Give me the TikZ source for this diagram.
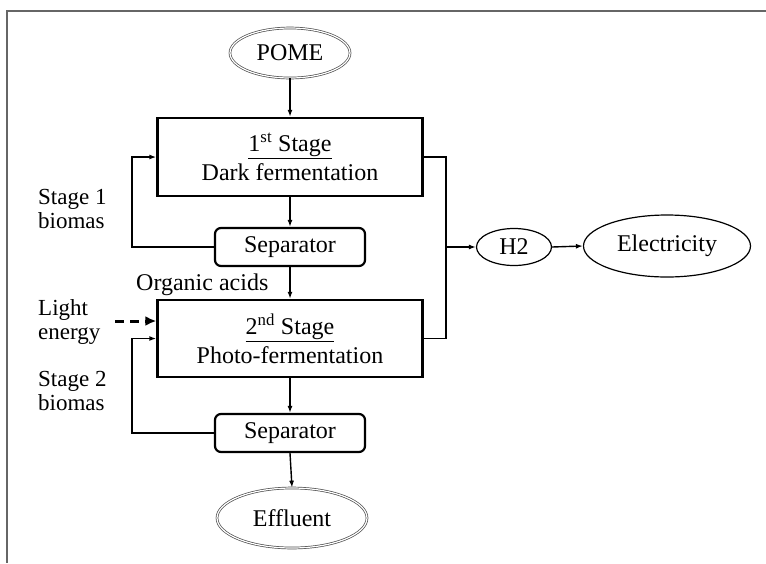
\documentclass[tikz,border=0pt]{standalone}
\usepackage{fontspec}
\setmainfont{Liberation Serif}
\usetikzlibrary{arrows.meta,shapes.geometric,calc}
\begin{document}
\begin{tikzpicture}[x=1pt,y=-1pt,
  every node/.style={font=\fontsize{24}{29}\selectfont, text=black},
  stagebox/.style={draw, line width=2.4pt, minimum width=265pt, minimum height=78pt, align=center, inner sep=0pt},
  sepbox/.style={draw, line width=2.2pt, rounded corners=6pt, minimum width=150pt, minimum height=38pt, inner sep=0pt},
  dblell/.style={ellipse, draw=black!70, double=white, double distance=1.2pt, line width=0.7pt, inner sep=0pt},
  plainell/.style={ellipse, draw, line width=1.2pt, inner sep=0pt},
  conn/.style={line width=1.4pt},
  arr/.style={conn, -{Latex[length=7pt,width=5pt]}},
  lbl/.style={align=left, inner sep=0pt, anchor=west, font=\fontsize{23}{24}\selectfont}
]
\useasboundingbox (0,0) rectangle (766,563);
% frame
\draw[black!60, line width=1.4pt] (766,11) -- (7,11) -- (7,563);

% nodes
\node[dblell, minimum width=120pt, minimum height=50pt] (pome) at (290,53) {POME};
\node[stagebox] (b1) at (290,157) {\underline{1\textsuperscript{st} Stage}\\Dark fermentation};
\node[sepbox] (s1) at (290,247) {Separator};
\node[stagebox, minimum height=77pt] (b2) at (290,338.5) {\underline{2\textsuperscript{nd} Stage}\\Photo-fermentation};
\node[sepbox] (s2) at (290,433) {Separator};
\node[dblell, minimum width=150pt, minimum height=60pt] (eff) at (292,518) {Effluent};
\node[plainell, minimum width=75pt, minimum height=37pt] (h2) at (514,247) {H2};
\node[plainell, minimum width=167pt, minimum height=62pt] (elec) at (667,246) {Electricity};

% labels
\node[lbl] (l1) at (38,209) {Stage 1\\biomas};
\node[lbl, font=\fontsize{24}{24}\selectfont] (oa) at (136,285) {Organic acids};
\node[lbl] (le) at (38,322) {Light\\energy};
\node[lbl] (l2) at (38,391) {Stage 2\\biomas};

% coordinates
\coordinate (bus) at (446,247);
\coordinate (light) at (115,321);

% connectors
\draw[arr] (pome.south) -- (b1.north);
\draw[arr] (b1.south) -- (s1.north);
\draw[arr] (s1.south) -- (b2.north);
\draw[arr] (b2.south) -- (s2.north);
\draw[arr] (s2.south) -- (eff.north);
\draw[arr] (s1.west) -- ++(-82,0) |- (b1.west);
\draw[arr] (s2.west) -- ++(-82,0) |- (b2.west);
\draw[line width=3pt, dash pattern=on 9pt off 6pt, -{Latex[length=11pt,width=10pt]}] (light) -- (light -| b2.west);
\draw[conn] (b1.east) -| (bus) |- (b2.east);
\draw[arr] (bus) -- (h2.west);
\draw[arr] (h2.east) -- (elec.west);
\end{tikzpicture}
\end{document}
